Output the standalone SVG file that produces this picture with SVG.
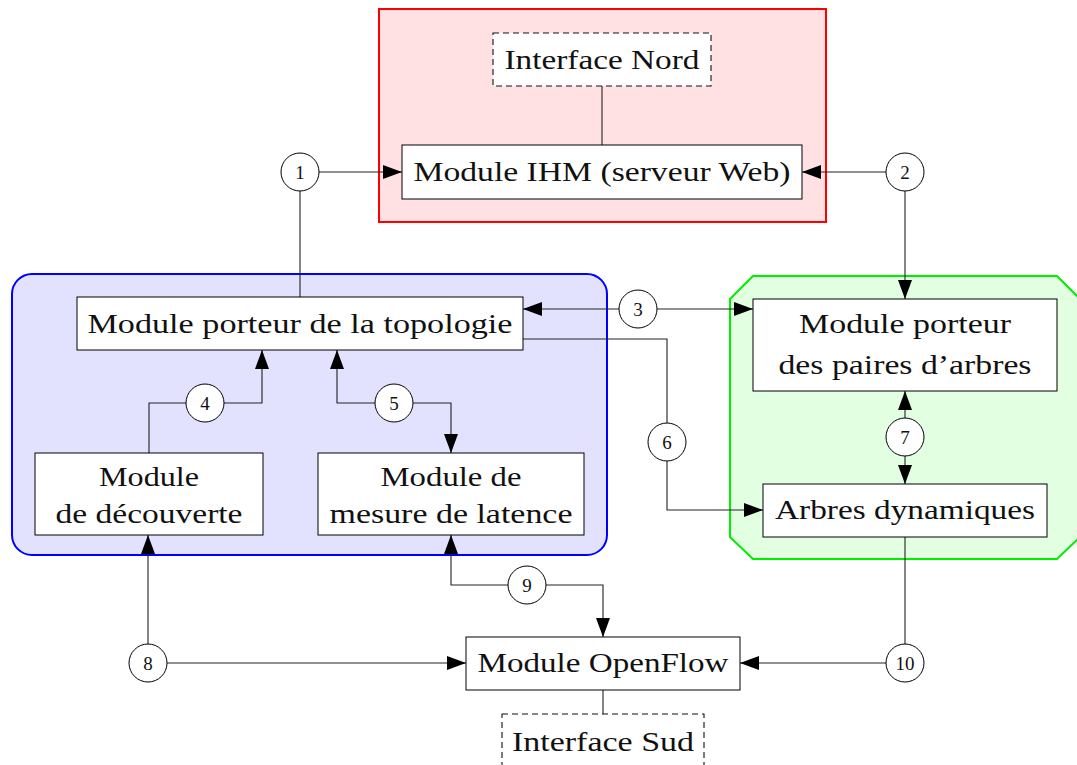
<svg xmlns="http://www.w3.org/2000/svg" width="1077" height="765" viewBox="0 0 1077 765">
<style>
.box{fill:#fff;stroke:#000;stroke-width:1}
.dash{fill:#fff;stroke:#111;stroke-width:1.1;stroke-dasharray:6 4}
.t{font-family:"Liberation Serif","DejaVu Serif",serif;font-size:28px;fill:#111;text-anchor:middle}
.n{font-family:"Liberation Serif","DejaVu Serif",serif;font-size:19px;fill:#111;text-anchor:middle}
.c{fill:#fff;stroke:#000;stroke-width:1}
.ln{fill:none;stroke:#222;stroke-width:1.1}
.a{marker-end:url(#ar)}
</style>
<defs>
<marker id="ar" markerUnits="userSpaceOnUse" markerWidth="19" markerHeight="14" viewBox="0 0 19 14" refX="19" refY="7" orient="auto"><path d="M0,0 L19,7 L0,14 z" fill="#000"/></marker>
</defs>
<rect width="1077" height="765" fill="#fff"/>
<g id="containers">
<rect x="379" y="9" width="447" height="213" fill="#ffe1e3" stroke="#f00" stroke-width="2"/>
<rect x="12" y="274" width="595" height="281" rx="20" fill="#e2e2ff" stroke="#00f" stroke-width="2"/>
<path d="M730,299 L753,276 L1057,276 L1080,299 L1080,537 L1057,559 L753,559 L730,537 Z" fill="#e2ffe2" stroke="#0e0" stroke-width="2"/>
</g>
<g id="connectors">
<path class="ln" d="M602,86 V145"/>
<path class="ln a" d="M319,172 H402"/>
<path class="ln" d="M300,191 V297"/>
<path class="ln a" d="M886,172 H802"/>
<path class="ln a" d="M905,191 V299"/>
<path class="ln a" d="M619,309 H523"/>
<path class="ln a" d="M657,309 H753"/>
<path class="ln" d="M523,339 H667 V423"/>
<path class="ln a" d="M667,461 V510 H763"/>
<path class="ln a" d="M905,418 V391"/>
<path class="ln a" d="M905,456 V484"/>
<path class="ln" d="M149,453 V403 H186"/>
<path class="ln a" d="M224,403 H262 V350"/>
<path class="ln a" d="M375,403 H337 V350"/>
<path class="ln a" d="M413,403 H451 V453"/>
<path class="ln a" d="M148,644 V535"/>
<path class="ln a" d="M167,663 H466"/>
<path class="ln a" d="M508,585 H451 V535"/>
<path class="ln a" d="M546,585 H603 V637"/>
<path class="ln" d="M905,644 V537"/>
<path class="ln a" d="M886,663 H740"/>
<path class="ln" d="M603,690 V714"/>
</g>
<g id="interface-nord"><rect class="dash" x="493" y="33" width="218" height="53"/><text class="t" x="602" y="69" textLength="195" lengthAdjust="spacingAndGlyphs">Interface Nord</text></g>
<g id="module-ihm"><rect class="box" x="402" y="145" width="400" height="54"/><text class="t" x="602" y="181" textLength="377" lengthAdjust="spacingAndGlyphs">Module IHM (serveur Web)</text></g>
<g id="module-topologie"><rect class="box" x="77" y="297" width="446" height="53"/><text class="t" x="300" y="333" textLength="425" lengthAdjust="spacingAndGlyphs">Module porteur de la topologie</text></g>
<g id="module-decouverte"><rect class="box" x="35" y="453" width="228" height="82"/><text class="t" x="149" y="486" textLength="100" lengthAdjust="spacingAndGlyphs">Module</text><text class="t" x="149" y="523" textLength="187" lengthAdjust="spacingAndGlyphs">de découverte</text></g>
<g id="module-latence"><rect class="box" x="318" y="453" width="266" height="82"/><text class="t" x="451" y="486" textLength="141" lengthAdjust="spacingAndGlyphs">Module de</text><text class="t" x="451" y="523" textLength="243" lengthAdjust="spacingAndGlyphs">mesure de latence</text></g>
<g id="module-paires"><rect class="box" x="753" y="299" width="304" height="92"/><text class="t" x="905" y="333" textLength="212" lengthAdjust="spacingAndGlyphs">Module porteur</text><text class="t" x="905" y="374" textLength="253" lengthAdjust="spacingAndGlyphs">des paires d’arbres</text></g>
<g id="arbres-dynamiques"><rect class="box" x="763" y="484" width="284" height="53"/><text class="t" x="905" y="519" textLength="260" lengthAdjust="spacingAndGlyphs">Arbres dynamiques</text></g>
<g id="module-openflow"><rect class="box" x="466" y="637" width="274" height="53"/><text class="t" x="603" y="672" textLength="251" lengthAdjust="spacingAndGlyphs">Module OpenFlow</text></g>
<g id="interface-sud"><rect class="dash" x="502" y="714" width="202" height="60"/><text class="t" x="603" y="751" textLength="182" lengthAdjust="spacingAndGlyphs">Interface Sud</text></g>
<g id="c1"><circle class="c" cx="300" cy="172" r="19"/><text class="n" x="300" y="179">1</text></g>
<g id="c2"><circle class="c" cx="905" cy="172" r="19"/><text class="n" x="905" y="179">2</text></g>
<g id="c3"><circle class="c" cx="638" cy="309" r="19"/><text class="n" x="638" y="316">3</text></g>
<g id="c4"><circle class="c" cx="205" cy="403" r="19"/><text class="n" x="205" y="410">4</text></g>
<g id="c5"><circle class="c" cx="394" cy="403" r="19"/><text class="n" x="394" y="410">5</text></g>
<g id="c6"><circle class="c" cx="667" cy="442" r="19"/><text class="n" x="667" y="449">6</text></g>
<g id="c7"><circle class="c" cx="905" cy="437" r="19"/><text class="n" x="905" y="444">7</text></g>
<g id="c8"><circle class="c" cx="148" cy="663" r="19"/><text class="n" x="148" y="670">8</text></g>
<g id="c9"><circle class="c" cx="527" cy="585" r="19"/><text class="n" x="527" y="592">9</text></g>
<g id="c10"><circle class="c" cx="905" cy="663" r="19"/><text class="n" x="905" y="670">10</text></g>
</svg>
